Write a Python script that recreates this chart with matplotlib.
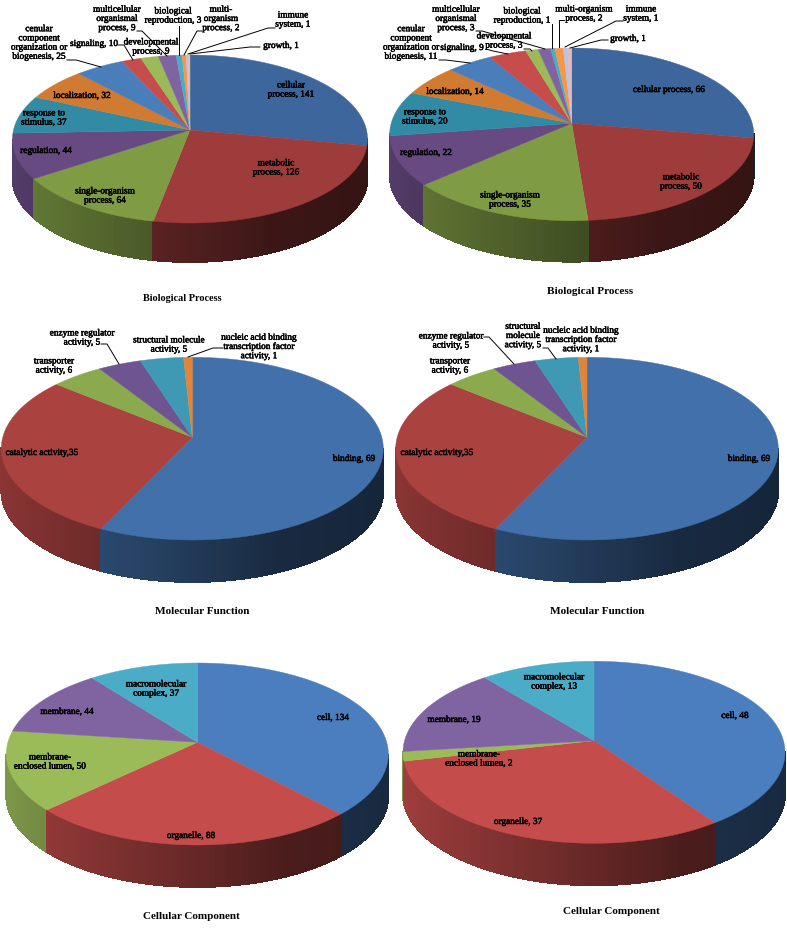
import numpy as np
import matplotlib
matplotlib.use("Agg")
import matplotlib.pyplot as plt
import matplotlib.colors as mcolors
import matplotlib.patheffects as pe
from matplotlib.collections import PolyCollection

plt.rcParams["font.family"] = ["Liberation Serif", "DejaVu Serif"]

# Data for each pie
bp1_labels = ["cellular\nprocess, 141", "metabolic\nprocess, 126", "single-organism\nprocess, 64",
              "regulation, 44", "response to\nstimulus, 37", "localization, 32",
              "cenular\ncomponent\norganization or\nbiogenesis, 25", "signaling, 10",
              "developmental\nprocess, 9", "multicellular\norganismal\nprocess, 9",
              "biological\nreproduction, 3", "multi-\norganism\nprocess, 2",
              "immune\nsystem, 1", "growth, 1"]
bp1_values = [141, 126, 64, 44, 37, 32, 25, 10, 9, 9, 3, 2, 1, 1]

bp2_labels = ["cellular process, 66", "metabolic\nprocess, 50", "single-organism\nprocess, 35",
              "regulation, 22", "response to\nstimulus, 20", "localization, 14",
              "cenular\ncomponent\norganization or\nbiogenesis, 11", "signaling, 9",
              "developmental\nprocess, 3", "multicellular\norganismal\nprocess, 3",
              "biological\nreproduction, 1", "multi-organism\nprocess, 2",
              "immune\nsystem, 1", "growth, 1"]
bp2_values = [66, 50, 35, 22, 20, 14, 11, 9, 3, 3, 1, 2, 1, 1]

mf1_labels = ["binding, 69", "catalytic activity,35", "transporter\nactivity, 6",
              "enzyme regulator\nactivity, 5", "structural molecule\nactivity, 5",
              "nucleic acid binding\ntranscription factor\nactivity, 1"]
mf2_labels = ["binding, 69", "catalytic activity,35", "transporter\nactivity, 6",
              "enzyme regulator\nactivity, 5", "structural\nmolecule\nactivity, 5",
              "nucleic acid binding\ntranscription factor\nactivity, 1"]
mf_values = [69, 35, 6, 5, 5, 1]

cc1_labels = ["cell, 134", "organelle, 88", "membrane-\nenclosed lumen, 50", "membrane, 44",
              "macromolecular\ncomplex, 37"]
cc1_values = [134, 88, 50, 44, 37]
cc2_labels = ["cell, 48", "organelle, 37", "membrane-\nenclosed lumen, 2", "membrane, 19",
              "macromolecular\ncomplex, 13"]
cc2_values = [48, 37, 2, 19, 13]

# Colours
bp_colors = ["#3c669c", "#9e3b3b", "#7f9c45", "#674a81", "#318ba4", "#d07a32", "#4a7ebb",
             "#c64d4b", "#9bbb59", "#8064a2", "#4bacc6", "#f79646", "#b4c4e2", "#e4b8b8"]
mf_colors = ["#4170aa", "#aa4240", "#8aaa4d", "#6e5490", "#3f99b5", "#e0853a"]
cc_colors = ["#4a7ebf", "#c44d4b", "#9bbb59", "#8064a2", "#4bacc8"]

# Layout in pixels: centre x, centre y, radius x, back radius, front radius, wall depth
geo = {
    "bp1": (190.0, 131.0, 177.5, 75.0, 93.0, 39),
    "bp2": (571.7, 124.3, 182.0, 75.3, 97.4, 41),
    "mf1": (192.3, 438.3, 191.0, 80.0, 102.7, 42),
    "mf2": (587.0, 438.3, 191.3, 80.0, 102.7, 42),
    "cc1": (197.3, 743.3, 191.0, 79.3, 102.7, 42),
    "cc2": (594.0, 741.7, 191.0, 79.4, 102.6, 42),
}

bp1_pos = [(291, 91), (276, 169), (105, 197), (46, 152), (44, 119), (82, 97), (39, 44),
           (94, 45), (151, 48), (117, 20), (173, 17), (221, 20), (293, 21), (281, 47)]
bp2_pos = [(669, 91), (681, 183), (510, 201), (426, 154), (425, 118), (455, 93), (411, 44),
           (462, 49), (504, 42), (456, 20), (522, 17), (584, 15), (641, 15), (628, 40)]
mf1_pos = [(354, 460), (42, 454), (54, 367), (82, 339), (169, 346), (259, 348)]
mf2_pos = [(749, 460), (437, 454), (450, 367), (451, 342), (523, 337), (581, 341)]
cc1_pos = [(333, 719), (191, 837), (50, 763), (67, 713), (156, 690)]
cc2_pos = [(735, 717), (518, 823), (479, 760), (454, 721), (554, 683)]

leaders = {
    "bp1": [[(67, 61), (76, 61), (101, 68)], [(118, 46), (124, 46), (133, 61)],
            [(137, 32), (142, 32), (167, 57)], [(179, 27), (179, 56)],
            [(202, 32), (197, 32), (184, 56)], [(275, 29), (268, 29), (188, 55)],
            [(260, 48), (250, 48), (190, 55)]],
    "bp2": [[(439, 61), (446, 61), (470, 64)], [(486, 50), (493, 52), (508, 55)],
            [(524, 50), (530, 50), (532, 52)], [(476, 32), (482, 32), (545, 50)],
            [(552, 25), (552, 49)], [(564, 21), (559, 21), (559, 48)],
            [(623, 22), (616, 22), (565, 48)], [(608, 41), (601, 41), (570, 49)]],
    "mf1": [[(101, 345), (107, 345), (119, 365)], [(223, 349), (213, 349), (188, 358)]],
    "mf2": [[(484, 338), (489, 338), (514, 365)], [(543, 349), (548, 349), (556, 360)]],
    "cc1": [],
    "cc2": [],
}

titles = [("Biological Process", 182, 298, 7.4), ("Biological Process", 590, 291, 8.1),
          ("Molecular Function", 202, 612, 8.1), ("Molecular Function", 597, 612, 8.1),
          ("Cellular Component", 191, 917, 8.0), ("Cellular Component", 611, 912, 8.0)]

charts = [
    ("bp1", bp1_labels, bp1_values, bp_colors, bp1_pos),
    ("bp2", bp2_labels, bp2_values, bp_colors, bp2_pos),
    ("mf1", mf1_labels, mf_values, mf_colors, mf1_pos),
    ("mf2", mf2_labels, mf_values, mf_colors, mf2_pos),
    ("cc1", cc1_labels, cc1_values, cc_colors, cc1_pos),
    ("cc2", cc2_labels, cc2_values, cc_colors, cc2_pos),
]


def perspective(g):
    return (g[4] - g[3]) / (g[4] + g[3])


def project(theta, g):
    # clockwise from 12 o'clock, with a bit of perspective so the centre sits above the middle
    cx, cy, rx, back, front, depth = g
    k = perspective(g)
    ry = back * (1 + k)
    u = np.sin(theta)
    v = np.cos(theta)
    d = 1 + k * v
    return cx + rx * np.sqrt(1 - k * k) * u / d, cy - ry * v / d


def shade(rel):
    # walls get darker going to the right
    return np.interp(rel, [-1, -0.2, 0.4, 1], [0.82, 0.58, 0.38, 0.33])


fig = plt.figure(figsize=(7.87, 9.29), dpi=100)
ax = fig.add_axes([0, 0, 1, 1])
ax.set_xlim(0, 787)
ax.set_ylim(929, 0)
ax.axis("off")

stroke = [pe.withStroke(linewidth=0.35, foreground="black")]

for key, labels, values, colors, pos in charts:
    g = geo[key]
    edges = np.concatenate([[0], np.cumsum(values)]) / np.sum(values) * 2 * np.pi

    # side wall, no antialiasing on the strips or the seams show up as stripes
    strips = []
    for i in range(len(values)):
        n = max(2, int((edges[i + 1] - edges[i]) / np.radians(1.5)) + 1)
        th = np.linspace(edges[i], edges[i + 1], n + 1)
        for a, b in zip(th[:-1], th[1:]):
            mid = (a + b) / 2
            # strips behind the widest point of the ellipse can't be seen
            if np.cos(mid) > -perspective(g):
                continue
            xa, ya = project(a, g)
            xb, yb = project(b, g)
            poly = [(xa, ya), (xb, yb), (xb, yb + g[5]), (xa, ya + g[5])]
            rgb = np.array(mcolors.to_rgb(colors[i])) * shade(np.sin(mid))
            strips.append((-np.cos(mid), poly, rgb))
    # back to front
    strips.sort(key=lambda s: s[0])
    polys = [s[1] for s in strips]
    wall_cols = [s[2] for s in strips]
    ax.add_collection(PolyCollection(polys, facecolors=wall_cols, edgecolors=wall_cols,
                                     linewidths=0.6, antialiaseds=False, zorder=1))

    # top face
    for i in range(len(values)):
        th = np.linspace(edges[i], edges[i + 1], 120)
        xs, ys = project(th, g)
        ax.fill(np.r_[g[0], xs], np.r_[g[1], ys], facecolor=colors[i], edgecolor=colors[i],
                linewidth=0.3, zorder=2)

    for pts in leaders[key]:
        ax.plot([p[0] for p in pts], [p[1] for p in pts], color="black", lw=0.7, zorder=3)

    for lab, (x, y) in zip(labels, pos):
        ax.text(x, y, lab, ha="center", va="center", fontsize=6.7, color="black",
                linespacing=1.2, zorder=4, path_effects=stroke)

for name, x, y, size in titles:
    ax.text(x, y, name, ha="center", va="center", fontsize=size, fontweight="bold", color="black")

fig.savefig("out.png", dpi=100, facecolor="white")
